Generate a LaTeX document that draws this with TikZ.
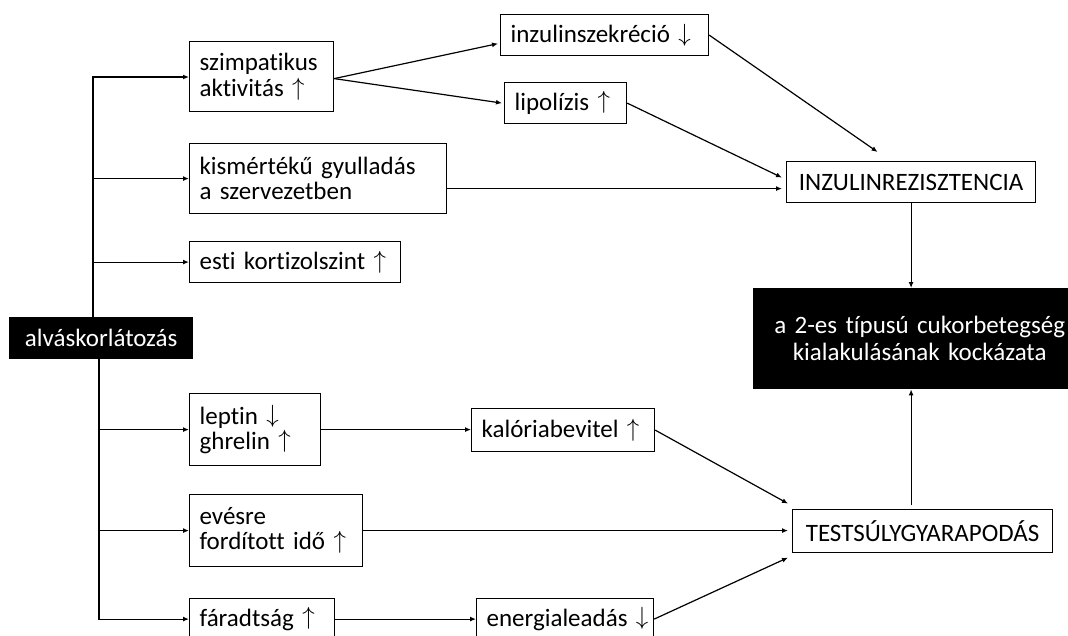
\documentclass[tikz,border=0pt]{standalone}
\usepackage{fontspec}
\setmainfont{Carlito}[Ligatures=NoCommon,WordSpace=0.8]
\usetikzlibrary{arrows.meta,calc}
\newcommand{\upa}{{\fontsize{24.88}{25}\selectfont\raisebox{1.5pt}{$\uparrow$}}}
\newcommand{\dna}{{\fontsize{24.88}{25}\selectfont\raisebox{1.5pt}{$\downarrow$}}}
\begin{document}
\begin{tikzpicture}[x=1pt,y=-1pt,
  every node/.style={font=\fontsize{25}{25}\selectfont},
  box/.style={draw,line width=1.2pt,inner xsep=10pt,inner ysep=0pt,align=left,anchor=north west},
  cbox/.style={draw,line width=1.2pt,inner xsep=0pt,inner ysep=0pt,align=center,anchor=north west},
  blk/.style={fill=black,text=white,inner sep=0pt,align=center,anchor=north west},
  ln/.style={line width=1.2pt},
  arr/.style={line width=1.2pt,-{Latex[length=6pt,width=5pt]}}]
\useasboundingbox (0,0) rectangle (1068,635);
\clip (0,0) rectangle (1068,635);
\fill[white] (0,0) rectangle (1068,635);
% nodes
\node[blk,text width=184pt,minimum height=42pt] (alv) at (9,317) {\mbox{alváskorlátozás}};
\node[box,text width=124pt,minimum height=70pt,font=\fontsize{25}{26.5}\selectfont] (szimp) at (189,41) {\mbox{szimpatikus}\\\mbox{aktivitás \upa}};
\node[box,text width=237pt,minimum height=70pt] (kism) at (189,143) {\mbox{kismértékű gyulladás}\\\mbox{a szervezetben}};
\node[box,text width=191pt,minimum height=41pt] (esti) at (189,241) {\mbox{esti kortizolszint \upa}};
\node[box,text width=111pt,minimum height=72pt] (leptin) at (189,393) {\mbox{leptin \dna}\\\mbox{ghrelin \upa}};
\node[box,text width=153pt,minimum height=72pt] (evesre) at (189,494) {\mbox{evésre}\\\mbox{fordított idő \upa}};
\node[box,text width=125pt,minimum height=41pt] (farad) at (189,598) {\mbox{fáradtság \upa}};
\node[box,text width=188pt,minimum height=41pt] (inszek) at (500,14) {\mbox{inzulinszekréció \dna}};
\node[box,text width=102pt,minimum height=41pt] (lipo) at (504,82) {\mbox{lipolízis \upa}};
\node[cbox,text width=249pt,minimum height=41pt] (inz) at (786,161) {\mbox{INZULINREZISZTENCIA}};
\node[blk,text width=333pt,minimum height=101pt,font=\fontsize{25}{27}\selectfont] (diab) at (753,288) {\mbox{a 2-es típusú cukorbetegség}\\\mbox{kialakulásának kockázata}};
\node[box,text width=163pt,minimum height=43pt] (kalor) at (471,408) {\mbox{kalóriabevitel \upa}};
\node[box,text width=157pt,minimum height=41pt] (energ) at (476,598) {\mbox{energialeadás \dna}};
\node[cbox,text width=260pt,minimum height=43pt] (test) at (792,509) {\mbox{TESTSÚLYGYARAPODÁS}};
% trunk
\coordinate (ta) at (93,317);
\coordinate (tb) at (93,77);
\coordinate (tc) at (99,359);
\draw[arr] (ta) -- (tb) -- (tb -| szimp.west);
\draw[arr] (tb |- kism.west) -- (kism.west);
\draw[arr] (tb |- esti.west) -- (esti.west);
\draw[arr] (tc) -- (tc |- farad.west) -- (farad.west);
\draw[arr] (tc |- leptin.west) -- (leptin.west);
\draw[arr] (tc |- evesre.west) -- (evesre.west);
% upper connectors
\draw[arr] ($(szimp.east)+(0,2)$) -- ($(inszek.west)+(-2,8.5)$);
\draw[arr] ($(szimp.east)+(0,2)$) -- ($(lipo.west)+(-2,0)$);
\draw[arr] (inszek.east) -- ($(inz.north)+(-33.5,-9)$);
\draw[arr] (lipo.east) -- ($(inz.west)+(-4,-4.5)$);
\draw[arr] ($(kism.east)+(0,10)$) -- ($(inz.west)+(-4,6.5)$);
\draw[arr] (inz.south) -- (inz.south |- diab.north);
% lower connectors
\draw[arr] (leptin.east) -- (leptin.east -| kalor.west);
\draw[arr] (farad.east) -- (farad.east -| energ.west);
\draw[arr] (kalor.east) -- ($(test.west)+(-4,-27.5)$);
\draw[arr] (evesre.east) -- ($(evesre.east -| test.west)+(-4,0)$);
\draw[arr] (energ.east) -- ($(test.west)+(-4,26.5)$);
\draw[arr] ($(inz.south |- test.north)+(0,-4)$) -- (inz.south |- diab.south);
\end{tikzpicture}
\end{document}
